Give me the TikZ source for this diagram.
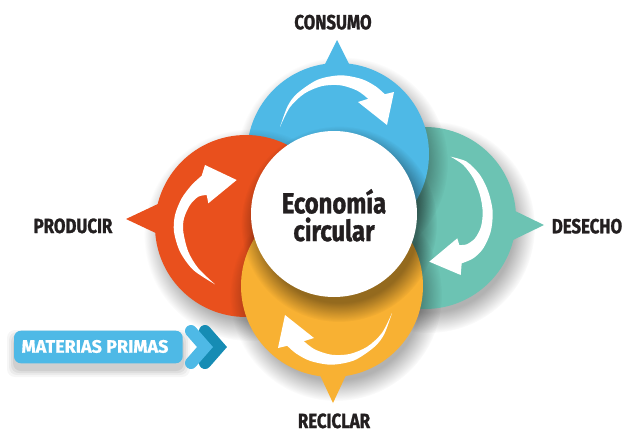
\documentclass[tikz,border=0pt]{standalone}
\usepackage{fontspec}
\newfontfamily\labfont{Fira Sans}[FakeStretch=0.82,BoldFeatures={FakeBold=1.2}]
\newfontfamily\mpfont{Fira Sans}[FakeStretch=1.0,BoldFeatures={FakeBold=0.8}]
\usetikzlibrary{fadings}
\definecolor{blueC}{RGB}{78,185,230}
\definecolor{orangeC}{RGB}{233,80,29}
\definecolor{tealC}{RGB}{108,195,179}
\definecolor{yellowC}{RGB}{248,177,51}
\definecolor{darkC}{RGB}{22,140,180}
\definecolor{textC}{RGB}{35,31,32}
\begin{document}
\begin{tikzpicture}[x=1pt,y=-1pt,
  shade/.style={black,opacity=#1,path fading=circle with fuzzy edge 20 percent,fit fading=true},
  lbl/.style={font=\labfont\bfseries\fontsize{20.5}{22}\selectfont,text=textC,inner sep=0pt,anchor=base},
  eco/.style={font=\labfont\bfseries\fontsize{29}{30}\selectfont,text=textC,inner sep=0pt,anchor=base},
  chev/.style={line width=12,line cap=round,line join=miter}]
\useasboundingbox (0,0) rectangle (622,432);
\fill[white] (0,0) rectangle (622,432);

% teal (back)
\fill[shade=0.3] (429,227) circle (106);
\fill[tealC] (425,218) circle (91);
\fill[tealC] (511,209) -- (544,225) -- (511,241) -- cycle;
% blue
\fill[shade=0.3] (342,163) circle (106);
\fill[blueC] (338,154) circle (91);
\fill[blueC] (323,68) -- (337,40) -- (351,68) -- cycle;
% orange
\fill[shade=0.3] (250,235) circle (106);
\fill[orangeC] (246,226) circle (91);
\fill[orangeC] (160,203) -- (126,219) -- (160,235) -- cycle;
% yellow
\fill[shade=0.3] (336,295) circle (106);
\fill[yellowC] (332,286) circle (91);
\fill[yellowC] (319,373) -- (333,403) -- (347,373) -- cycle;
% white centre
\fill[shade=0.4] (339,224) circle (98);
\node[circle,fill=white,minimum size=166pt,inner sep=0pt] (centre) at (334,214) {};

% arrows
\fill[white] plot[smooth] coordinates {(280,127) (287.8,105.8) (297.5,93.2) (317.7,79.7) (340.6,75.3) (361.5,79) (375.6,86.3) (384.8,94.2)}
  -- (394,92) -- (387,125) -- (358,102)
  -- plot[smooth] coordinates {(368.2,98.8) (357.2,90.6) (340.6,85.3) (322.3,86.0) (304.6,93.4) (290,107.1) (280,127)} -- cycle;
\fill[white] plot[smooth] coordinates {(450.7,156.7) (466.7,161.7) (480,175) (488.3,191.7) (492.7,211.7) (490.7,231.7) (483.3,248.3) (473.3,258.3) (461.7,263.3)}
  -- (460.7,275) -- (429.3,261.7) -- (457.3,238.3)
  -- plot[smooth] coordinates {(459.3,245) (466.7,244.3) (475,238.3) (481,226.7) (482.7,211.7) (480,195) (473.3,178.3) (463.3,165) (450.7,156.7)} -- cycle;
\fill[white] plot[smooth] coordinates {(392,313) (384.2,334.2) (374.5,346.8) (354.3,360.3) (331.4,364.7) (310.5,361) (296.4,353.7) (287.2,345.8)}
  -- (278,348) -- (285,315) -- (314,338)
  -- plot[smooth] coordinates {(303.8,341.2) (314.8,349.4) (331.4,354.7) (349.7,354) (367.4,346.6) (382,332.9) (392,313)} -- cycle;
\fill[white] plot[smooth] coordinates {(215,284.3) (193.3,270) (180,251.7) (174,231.7) (175,215) (181.7,198.3) (191.7,185) (201.7,175.7)}
  -- (205,165) -- (236.7,180) -- (208.3,203.3)
  -- plot[smooth] coordinates {(206.7,195) (198.3,196.7) (190,205) (184,218.3) (183.3,231.7) (188.3,251.7) (198.3,268.3) (215,284.3)} -- cycle;

% centre text
\node[eco] (eco1) at (334,213.3) {Economía};
\node[eco] (eco2) at (334,241) {circular};

% labels
\node[lbl] (consumo) at (333,29.3) {CONSUMO};
\node[lbl] (producir) at (73,233) {PRODUCIR};
\node[lbl] (desecho) at (587,233.3) {DESECHO};
\node[lbl] (reciclar) at (334,428) {RECICLAR};

% materias primas
\foreach \e/\o in {7/0.035,5/0.045,3/0.055,1/0.065}
  \fill[black,opacity=\o,rounded corners=8pt] (14-\e,337-\e) rectangle (183+\e,370+\e);
\node[fill=blueC,rounded corners=7pt,minimum width=168.7pt,minimum height=32.6pt,inner sep=0pt] (mpbox) at (98.35,347) {};
\node[font=\mpfont\bfseries\fontsize{18}{20}\selectfont,text=white,inner sep=0pt,anchor=base] (mptext) at (95,352.7) {MATERIAS PRIMAS};
\draw[chev,darkC] (205,331) -- (219,347) -- (205,363);
\draw[chev,blueC] (191,331) -- (205,347) -- (191,363);
\end{tikzpicture}
\end{document}
